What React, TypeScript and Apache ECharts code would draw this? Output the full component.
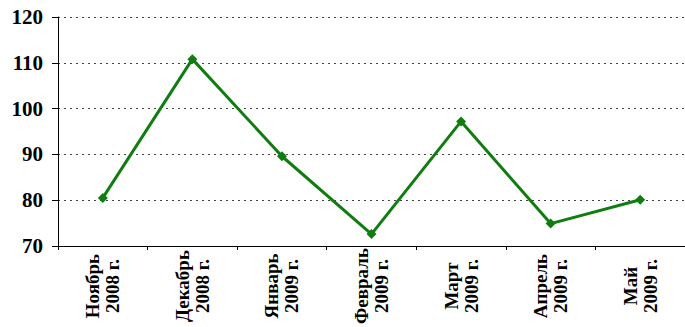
import React, { useEffect, useRef } from "react";
import * as echarts from "echarts";

const categories = [
  "Ноябрь\n2008 г.",
  "Декабрь\n2008 г.",
  "Январь\n2009 г.",
  "Февраль\n2009 г.",
  "Март\n2009 г.",
  "Апрель\n2009 г.",
  "Май\n2009 г.",
];
const values = [80.5, 110.8, 89.6, 72.6, 97.2, 74.9, 80.1];
const yMin = 70;
const yMax = 120;
const yStep = 10;

const FONT = "'Liberation Serif', 'Times New Roman', serif";

export default function App() {
  const ref = useRef<HTMLDivElement>(null);
  useEffect(() => {
    if (!ref.current) return;
    const chart = echarts.init(ref.current, null, { renderer: "svg" });
    chart.setOption({
      animation: false,
      grid: { left: 58, top: 17, bottom: 74, right: -2 },
      xAxis: {
        type: "category",
        data: categories,
        boundaryGap: true,
        axisLine: { lineStyle: { color: "#000", width: 1 } },
        axisTick: { show: true, length: 4, lineStyle: { color: "#000" } },
        axisLabel: {
          rotate: 90,
          align: "center",
          verticalAlign: "middle",
          margin: 40,
          fontFamily: FONT,
          fontWeight: "bold",
          fontSize: 19,
          lineHeight: 20,
          color: "#000",
          interval: 0,
        },
        splitLine: { show: false },
      },
      yAxis: {
        type: "value",
        min: yMin,
        max: yMax,
        interval: yStep,
        axisLine: { show: true, lineStyle: { color: "#000", width: 1 } },
        axisTick: { show: true, length: 6, lineStyle: { color: "#000" } },
        axisLabel: {
          margin: 15,
          fontFamily: FONT,
          fontWeight: "bold",
          fontSize: 21,
          color: "#000",
        },
        splitLine: {
          show: true,
          lineStyle: { color: "#444", type: [2, 4], width: 1 },
        },
      },
      series: [
        {
          type: "line",
          data: values,
          symbol: "diamond",
          symbolSize: 10,
          lineStyle: { color: "#117d11", width: 3 },
          itemStyle: { color: "#117d11" },
        },
      ],
    });
    return () => chart.dispose();
  }, []);
  return (
    <div
      ref={ref}
      style={{ position: "absolute", left: 0, top: 0, width: 685, height: 327 }}
    />
  );
}
